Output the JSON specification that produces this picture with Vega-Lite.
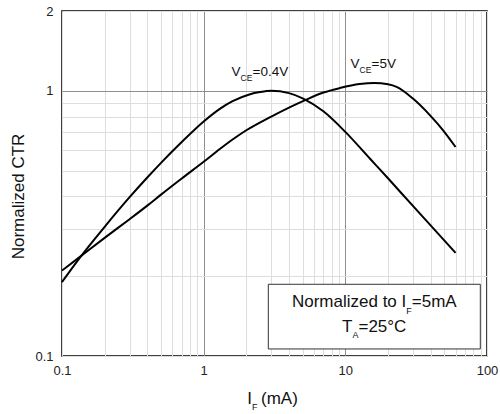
{
  "$schema": "https://vega.github.io/schema/vega-lite/v6.json",
  "width": 425,
  "height": 345,
  "autosize": {"type": "none"},
  "padding": {"left": 62, "top": 11, "right": 13, "bottom": 58},
  "background": "white",
  "config": {
    "font": "Liberation Sans",
    "view": {"stroke": "#000000", "strokeWidth": 1.5},
    "text": {"font": "Liberation Sans", "color": "#111111", "baseline": "alphabetic"}
  },
  "layer": [
    {
      "data": {
        "values": [
          {"vce": "0.4V", "i": 0.1, "ctr": 0.19},
          {"vce": "0.4V", "i": 0.133, "ctr": 0.234},
          {"vce": "0.4V", "i": 0.2, "ctr": 0.307},
          {"vce": "0.4V", "i": 0.3, "ctr": 0.397},
          {"vce": "0.4V", "i": 0.4, "ctr": 0.471},
          {"vce": "0.4V", "i": 0.5, "ctr": 0.535},
          {"vce": "0.4V", "i": 0.7, "ctr": 0.641},
          {"vce": "0.4V", "i": 1.0, "ctr": 0.766},
          {"vce": "0.4V", "i": 1.3, "ctr": 0.855},
          {"vce": "0.4V", "i": 1.6, "ctr": 0.914},
          {"vce": "0.4V", "i": 2.1, "ctr": 0.969},
          {"vce": "0.4V", "i": 2.5, "ctr": 0.989},
          {"vce": "0.4V", "i": 3.0, "ctr": 1.0},
          {"vce": "0.4V", "i": 4.0, "ctr": 0.98},
          {"vce": "0.4V", "i": 5.0, "ctr": 0.937},
          {"vce": "0.4V", "i": 7.0, "ctr": 0.837},
          {"vce": "0.4V", "i": 10, "ctr": 0.7},
          {"vce": "0.4V", "i": 15, "ctr": 0.553},
          {"vce": "0.4V", "i": 20, "ctr": 0.468},
          {"vce": "0.4V", "i": 30, "ctr": 0.368},
          {"vce": "0.4V", "i": 40, "ctr": 0.311},
          {"vce": "0.4V", "i": 60, "ctr": 0.245},
          {"vce": "5V", "i": 0.1, "ctr": 0.21},
          {"vce": "5V", "i": 0.133, "ctr": 0.236},
          {"vce": "5V", "i": 0.2, "ctr": 0.279},
          {"vce": "5V", "i": 0.3, "ctr": 0.328},
          {"vce": "5V", "i": 0.4, "ctr": 0.369},
          {"vce": "5V", "i": 0.5, "ctr": 0.406},
          {"vce": "5V", "i": 0.7, "ctr": 0.467},
          {"vce": "5V", "i": 1.0, "ctr": 0.54},
          {"vce": "5V", "i": 1.3, "ctr": 0.603},
          {"vce": "5V", "i": 1.6, "ctr": 0.655},
          {"vce": "5V", "i": 2.0, "ctr": 0.71},
          {"vce": "5V", "i": 3.0, "ctr": 0.8},
          {"vce": "5V", "i": 5.26, "ctr": 0.925},
          {"vce": "5V", "i": 7.0, "ctr": 0.985},
          {"vce": "5V", "i": 9.14, "ctr": 1.024},
          {"vce": "5V", "i": 12.6, "ctr": 1.06},
          {"vce": "5V", "i": 16, "ctr": 1.07},
          {"vce": "5V", "i": 20, "ctr": 1.058},
          {"vce": "5V", "i": 23, "ctr": 1.035},
          {"vce": "5V", "i": 30, "ctr": 0.935},
          {"vce": "5V", "i": 39.5, "ctr": 0.81},
          {"vce": "5V", "i": 49, "ctr": 0.71},
          {"vce": "5V", "i": 60, "ctr": 0.614}
        ]
      },
      "mark": {"type": "line", "interpolate": "monotone", "stroke": "#000000", "strokeWidth": 2},
      "encoding": {
        "x": {
          "field": "i", "type": "quantitative",
          "scale": {"type": "log", "domain": [0.1, 100], "nice": false},
          "axis": {
            "title": null,
            "values": [0.1,0.2,0.3,0.4,0.5,0.6,0.7,0.8,0.9,1,2,3,4,5,6,7,8,9,10,20,30,40,50,60,70,80,90,100],
            "labelExpr": "indexof([0.1,1,10,100], datum.value) >= 0 ? format(datum.value, '~g') : ''",
            "labelOverlap": false, "labelFlush": false, "labelBound": false,
            "labelFont": "Liberation Sans", "labelFontSize": 13, "labelColor": "#222222", "labelPadding": 8,
            "ticks": false, "tickSize": 0, "domain": false,
            "grid": true, "gridWidth": 1,
            "gridColor": {"condition": {"test": "datum.value == 1 || datum.value == 10", "value": "#8f8f8f"}, "value": "#dedede"}
          }
        },
        "y": {
          "field": "ctr", "type": "quantitative",
          "scale": {"type": "log", "domain": [0.1, 2], "nice": false},
          "axis": {
            "title": "Normalized CTR",
            "titleFont": "Liberation Sans", "titleFontSize": 17, "titleFontWeight": "normal", "titleColor": "#111111",
            "titleAngle": -90, "titleX": -39, "titleY": 185, "titleAlign": "center", "titleBaseline": "alphabetic",
            "values": [0.1,0.2,0.3,0.4,0.5,0.6,0.7,0.8,0.9,1,2],
            "labelExpr": "indexof([0.1,1,2], datum.value) >= 0 ? format(datum.value, '~g') : ''",
            "labelOverlap": false, "labelFlush": false, "labelBound": false,
            "labelFont": "Liberation Sans", "labelFontSize": 13, "labelColor": "#222222", "labelPadding": 9,
            "ticks": false, "tickSize": 0, "domain": false,
            "grid": true, "gridWidth": 1,
            "gridColor": {"condition": {"test": "datum.value == 1", "value": "#8f8f8f"}, "value": "#dedede"}
          }
        },
        "detail": {"field": "vce"}
      }
    },
    {
      "data": {"values": [{}]},
      "mark": {"type": "rect", "fill": "white", "stroke": "#333333", "strokeWidth": 1},
      "encoding": {
        "x": {"datum": 2.859, "type": "quantitative"},
        "x2": {"datum": 89.7},
        "y": {"datum": 0.1864, "type": "quantitative"},
        "y2": {"datum": 0.1063}
      }
    },
    {
      "data": {"values": [{}]},
      "mark": {"type": "text", "align": "right", "fontSize": 13.5},
      "encoding": {
        "x": {"datum": 1.82, "type": "quantitative"},
        "y": {"datum": 1.137, "type": "quantitative"},
        "text": {"value": "V"}
      }
    },
    {
      "data": {"values": [{}]},
      "mark": {"type": "text", "align": "left", "fontSize": 8.5, "dy": 5},
      "encoding": {
        "x": {"datum": 1.82, "type": "quantitative"},
        "y": {"datum": 1.137, "type": "quantitative"},
        "text": {"value": "CE"}
      }
    },
    {
      "data": {"values": [{}]},
      "mark": {"type": "text", "align": "left", "fontSize": 13.5, "dx": 12},
      "encoding": {
        "x": {"datum": 1.82, "type": "quantitative"},
        "y": {"datum": 1.137, "type": "quantitative"},
        "text": {"value": "=0.4V"}
      }
    },
    {
      "data": {"values": [{}]},
      "mark": {"type": "text", "align": "right", "fontSize": 13.5},
      "encoding": {
        "x": {"datum": 12.59, "type": "quantitative"},
        "y": {"datum": 1.214, "type": "quantitative"},
        "text": {"value": "V"}
      }
    },
    {
      "data": {"values": [{}]},
      "mark": {"type": "text", "align": "left", "fontSize": 8.5, "dy": 5},
      "encoding": {
        "x": {"datum": 12.59, "type": "quantitative"},
        "y": {"datum": 1.214, "type": "quantitative"},
        "text": {"value": "CE"}
      }
    },
    {
      "data": {"values": [{}]},
      "mark": {"type": "text", "align": "left", "fontSize": 13.5, "dx": 12},
      "encoding": {
        "x": {"datum": 12.59, "type": "quantitative"},
        "y": {"datum": 1.214, "type": "quantitative"},
        "text": {"value": "=5V"}
      }
    },
    {
      "data": {"values": [{}]},
      "mark": {"type": "text", "align": "right", "fontSize": 17},
      "encoding": {
        "x": {"datum": 26.93, "type": "quantitative"},
        "y": {"datum": 0.1524, "type": "quantitative"},
        "text": {"value": "Normalized to I"}
      }
    },
    {
      "data": {"values": [{}]},
      "mark": {"type": "text", "align": "left", "fontSize": 9, "dy": 6.5},
      "encoding": {
        "x": {"datum": 26.93, "type": "quantitative"},
        "y": {"datum": 0.1524, "type": "quantitative"},
        "text": {"value": "F"}
      }
    },
    {
      "data": {"values": [{}]},
      "mark": {"type": "text", "align": "left", "fontSize": 17, "dx": 5.5},
      "encoding": {
        "x": {"datum": 26.93, "type": "quantitative"},
        "y": {"datum": 0.1524, "type": "quantitative"},
        "text": {"value": "=5mA"}
      }
    },
    {
      "data": {"values": [{}]},
      "mark": {"type": "text", "align": "right", "fontSize": 17},
      "encoding": {
        "x": {"datum": 11.23, "type": "quantitative"},
        "y": {"datum": 0.1232, "type": "quantitative"},
        "text": {"value": "T"}
      }
    },
    {
      "data": {"values": [{}]},
      "mark": {"type": "text", "align": "left", "fontSize": 9, "dy": 6.5},
      "encoding": {
        "x": {"datum": 11.23, "type": "quantitative"},
        "y": {"datum": 0.1232, "type": "quantitative"},
        "text": {"value": "A"}
      }
    },
    {
      "data": {"values": [{}]},
      "mark": {"type": "text", "align": "left", "fontSize": 17, "dx": 6},
      "encoding": {
        "x": {"datum": 11.23, "type": "quantitative"},
        "y": {"datum": 0.1232, "type": "quantitative"},
        "text": {"value": "=25°C"}
      }
    },
    {
      "data": {"values": [{}]},
      "mark": {"type": "text", "align": "right", "fontSize": 17},
      "encoding": {
        "x": {"datum": 2.194, "type": "quantitative"},
        "y": {"datum": 0.0657, "type": "quantitative"},
        "text": {"value": "I"}
      }
    },
    {
      "data": {"values": [{}]},
      "mark": {"type": "text", "align": "left", "fontSize": 9, "dy": 6},
      "encoding": {
        "x": {"datum": 2.194, "type": "quantitative"},
        "y": {"datum": 0.0657, "type": "quantitative"},
        "text": {"value": "F"}
      }
    },
    {
      "data": {"values": [{}]},
      "mark": {"type": "text", "align": "left", "fontSize": 17, "dx": 9},
      "encoding": {
        "x": {"datum": 2.194, "type": "quantitative"},
        "y": {"datum": 0.0657, "type": "quantitative"},
        "text": {"value": "(mA)"}
      }
    }
  ]
}
